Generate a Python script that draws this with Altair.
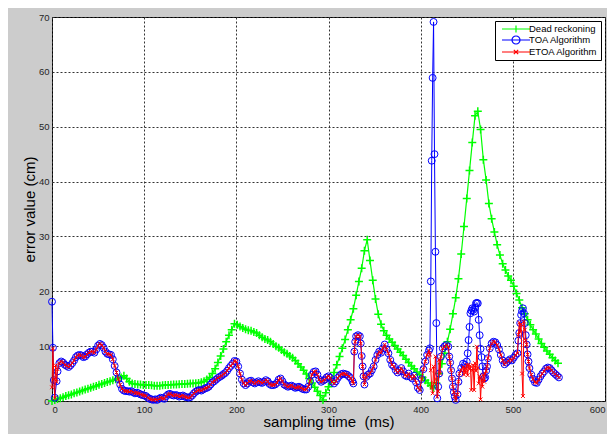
import altair as alt
import pandas as pd

series_names = ["Dead reckoning", "TOA Algorithm", "ETOA Algorithm"]
series_colors = ["#00ff00", "#0000ff", "#ff0000"]
x_ticks = [0, 100, 200, 300, 400, 500, 600]
y_ticks = [0, 10, 20, 30, 40, 50, 60, 70]

# Dead reckoning error, sampled every 3 ms starting at 0
dead_v = [
    0.0, 0.2, 0.35, 0.5, 0.7, 0.9, 1.05, 1.2, 1.4, 1.55,
    1.75, 1.9, 2.1, 2.25, 2.4, 2.6, 2.75, 2.95, 3.1, 3.3,
    3.45, 3.6, 3.8, 3.95, 4.1, 4.3, 4.6, 4.1, 3.5, 3.2,
    3.1, 3.0, 3.0, 2.9, 2.9, 2.9, 2.85, 2.8, 2.8, 2.8,
    2.85, 2.9, 2.9, 2.95, 3.0, 3.0, 3.05, 3.1, 3.1, 3.15,
    3.2, 3.2, 3.25, 3.3, 3.4, 3.6, 3.9, 4.3, 5.0, 5.9,
    7.0, 8.2, 9.5, 10.8, 12.0, 13.0, 14.1, 13.9, 13.6, 13.3,
    13.1, 12.9, 12.8, 12.6, 12.4, 12.0, 11.6, 11.3, 11.1, 10.8,
    10.4, 10.0, 9.7, 9.3, 8.9, 8.6, 8.2, 7.9, 7.4, 6.8,
    6.2, 5.6, 4.9, 4.1, 3.3, 2.5, 1.8, 1.0, 0.2, 1.5,
    2.6, 3.7, 5.2, 6.6, 8.1, 9.6, 11.2, 13.0, 14.8, 16.8,
    19.3, 21.8, 24.2, 27.4, 29.4, 25.6, 22.0, 18.6, 15.8, 14.0,
    12.8, 12.0, 11.3, 10.7, 10.1, 9.5, 8.9, 8.3, 7.6, 7.0,
    6.4, 5.9, 5.3, 4.8, 4.3, 3.8, 3.3, 2.8, 2.4, 3.3,
    5.0, 6.8, 8.7, 10.8, 13.1, 15.9, 18.8, 22.3, 26.8, 31.8,
    36.9, 42.0, 47.1, 52.0, 52.8, 49.5, 44.0, 40.3, 36.0, 33.2,
    30.8, 28.5, 26.6, 25.0, 23.9, 22.8, 22.0, 20.9, 19.6, 18.4,
    17.0, 15.9, 14.8, 13.9, 13.0, 12.2, 11.3, 10.5, 9.8, 9.1,
    8.5, 7.9, 7.4, 6.9,
]

# (time, error) pairs
toa_head = [(0, 18.1), (1, 9.7), (2, 3.8), (3, 0.6), (5, 3.6), (6, 5.4)]
etoa_head = [(0, 2.5), (1, 9.6), (2, 4.0), (3, 0.5), (4, 6.5), (5, 3.5), (6, 5.8)]

shared_a = [
    (8, 6.9), (10, 7.2), (12, 7.0), (14, 6.6), (16, 6.4), (18, 6.2), (20, 6.5), (22, 6.9), (24, 7.4), (26, 8.0),
    (28, 8.3), (30, 8.4), (32, 8.3), (34, 8.0), (36, 8.1), (38, 8.5), (40, 8.8), (42, 9.0), (44, 9.0), (46, 8.8),
    (48, 9.4), (50, 10.1), (52, 10.4), (54, 10.2), (56, 9.7), (58, 9.0), (60, 8.6), (62, 8.5), (64, 8.4), (66, 7.6),
    (68, 6.4), (70, 5.2), (72, 4.0), (74, 3.0), (76, 2.2), (78, 1.9), (80, 1.8), (82, 1.8), (84, 1.7), (86, 1.8),
    (88, 1.6), (90, 1.4), (92, 1.5), (94, 1.4), (96, 1.2), (98, 1.1), (100, 1.0), (102, 0.9), (104, 0.6), (106, 0.4),
    (108, 0.3), (110, 0.2), (112, 0.3), (114, 0.2), (116, 0.4), (118, 0.6), (120, 0.5), (122, 0.4), (124, 0.9), (126, 1.2),
    (128, 1.3), (130, 1.1), (132, 1.0), (134, 1.1), (136, 1.0), (138, 0.8), (140, 0.9), (142, 1.0), (144, 0.8), (146, 0.7),
    (148, 0.6), (150, 0.7), (152, 1.0), (154, 1.4), (156, 1.7), (158, 1.9), (160, 2.0), (162, 1.9), (164, 2.1), (166, 2.3),
    (168, 2.4), (170, 2.6), (172, 3.0), (174, 3.4), (176, 3.6), (178, 3.9), (180, 4.2), (182, 4.4), (184, 4.6), (186, 4.9),
    (188, 5.1), (190, 5.5), (192, 6.0), (194, 6.4), (196, 6.8), (198, 7.3), (200, 7.2), (202, 6.3), (204, 5.0), (206, 3.9),
    (208, 3.2), (210, 2.9), (212, 3.2), (214, 3.6), (216, 3.7), (218, 3.4), (220, 3.2), (222, 3.4), (224, 3.6), (226, 3.4),
    (228, 3.3), (230, 3.5), (232, 3.8), (234, 3.6), (236, 3.1), (238, 2.9), (240, 2.9), (242, 3.0), (244, 3.3), (246, 3.9),
    (248, 4.1), (250, 3.6), (252, 3.0), (254, 2.8), (256, 2.6), (258, 2.7), (260, 2.8), (262, 2.6), (264, 2.4), (266, 2.5),
    (268, 2.6), (270, 2.4), (272, 2.2), (274, 2.1), (276, 2.1), (278, 2.6), (280, 3.6), (282, 4.8), (284, 5.3), (286, 5.4),
    (288, 4.8), (290, 3.9), (292, 3.5), (294, 3.7), (296, 3.9), (298, 4.3), (300, 4.5), (302, 4.2), (304, 3.5), (306, 3.2),
    (308, 3.6), (310, 4.2), (312, 4.6), (314, 4.9), (316, 5.0), (318, 4.9), (320, 4.8), (322, 4.5), (324, 4.2), (326, 3.6),
    (327, 3.2), (328, 9.0), (329, 10.8), (330, 11.8), (332, 12.0), (334, 11.8), (335, 10.5), (336, 8.2), (337, 6.3), (338, 4.5),
    (339, 3.0), (341, 4.4), (343, 4.8), (345, 5.0), (347, 5.6), (349, 6.3), (351, 7.5), (353, 8.4), (355, 9.0), (357, 8.8),
    (359, 9.6), (361, 10.3), (363, 9.4), (365, 8.7), (367, 7.5), (369, 6.6), (371, 6.3), (373, 5.6), (375, 5.2), (377, 5.5),
    (379, 6.0), (381, 5.4), (383, 4.7), (385, 4.5), (387, 5.0), (389, 4.4), (391, 4.1), (393, 4.6), (395, 3.4), (397, 2.4),
    (399, 2.0), (401, 4.0), (403, 5.8), (405, 7.2), (407, 8.4), (409, 9.2),
]

toa_mid = [
    (410, 9.6), (411, 21.8), (412, 43.8), (413, 58.9), (414, 69.1), (415, 45.0), (416, 27.2), (417, 14.2), (418, 0.5),
    (419, 2.6), (420, 5.0), (422, 8.1), (424, 9.6), (426, 10.0), (428, 10.2), (430, 9.9), (431, 8.1), (432, 7.0),
    (433, 5.6), (434, 4.1), (435, 2.6), (436, 1.6), (437, 0.8), (438, 0.2), (440, 1.2), (441, 3.5), (442, 5.0),
    (444, 6.0), (446, 6.8), (448, 6.6), (450, 7.2), (451, 8.7), (452, 11.1), (453, 13.5), (454, 16.0), (455, 16.5),
    (456, 16.9), (457, 16.6), (458, 16.3), (459, 17.0), (460, 17.8), (461, 17.9), (462, 17.8), (463, 14.8), (464, 12.0),
    (465, 9.5), (466, 8.0), (467, 6.3), (468, 4.5), (469, 4.1), (470, 4.3), (471, 5.5), (472, 6.3),
]
etoa_mid = [
    (410, 8.5), (411, 5.6), (412, 2.5), (413, 1.4), (414, 6.3), (415, 3.2), (416, 8.1), (417, 4.0), (418, 0.8),
    (419, 1.8), (420, 7.5), (421, 5.0), (422, 8.1), (424, 9.6), (426, 9.9), (428, 10.2), (430, 9.9), (431, 8.1),
    (432, 7.0), (433, 5.6), (434, 4.1), (435, 2.6), (436, 1.6), (437, 0.8), (438, 0.2), (440, 1.2), (441, 3.5),
    (442, 5.0), (444, 5.6), (446, 6.2), (447, 4.8), (448, 6.0), (449, 5.2), (450, 6.6), (451, 4.7), (452, 6.6),
    (453, 5.8), (454, 6.4), (455, 2.0), (456, 5.6), (457, 6.5), (458, 2.0), (459, 6.9), (460, 5.5), (461, 9.9),
    (462, 6.0), (463, 3.2), (464, 4.5), (465, 0.3), (466, 4.0), (467, 2.6), (468, 4.8), (469, 3.5), (470, 5.0),
    (471, 5.5), (472, 6.3),
]

shared_b = [
    (473, 7.8), (475, 9.6), (477, 10.5), (479, 10.8), (481, 10.7), (483, 10.2), (485, 9.4), (487, 8.4), (489, 7.4),
    (491, 6.7), (493, 7.0), (495, 7.3), (497, 7.6), (499, 7.4), (501, 7.9), (503, 8.4), (505, 8.7),
]

toa_peak = [(506, 11.0), (507, 12.4), (508, 14.2), (509, 15.7), (510, 16.4), (511, 16.9), (512, 16.0), (513, 14.2), (514, 12.0), (515, 10.3)]
etoa_peak = [(506, 12.1), (507, 14.3), (508, 12.6), (509, 14.0), (510, 5.0), (511, 0.9), (512, 14.5), (513, 13.0), (514, 11.0), (515, 10.3)]

shared_c = [
    (516, 8.5), (517, 7.2), (518, 6.0), (520, 4.8), (522, 4.0), (524, 3.4), (526, 3.3), (528, 3.9), (530, 4.5),
    (532, 5.0), (534, 5.4), (536, 5.9), (538, 6.1), (540, 6.0), (542, 5.6), (544, 5.2), (546, 4.9), (548, 4.6), (550, 4.3),
]

toa = toa_head + shared_a + toa_mid + shared_b + toa_peak + shared_c
etoa = etoa_head + shared_a + etoa_mid + shared_b + etoa_peak + shared_c

dead_df = pd.DataFrame({"t": [3 * i for i in range(len(dead_v))], "v": dead_v})
toa_df = pd.DataFrame(toa, columns=["t", "v"])
etoa_df = pd.DataFrame(etoa, columns=["t", "v"])
leg_df = pd.DataFrame({"series": series_names})

PLUS = "M-1,0H1M0,-1V1"
XMARK = "M-1,-1L1,1M-1,1L1,-1"
legend_paths = [
    "M-3.5,0H3.5M0,-0.9V0.9M-0.9,0H0.9",
    "M-3.5,0H3.5M1,0A1,1 0 1 1 -1,0A1,1 0 1 1 1,0",
    "M-3.5,0H3.5M-0.55,-0.55L0.55,0.55M-0.55,0.55L0.55,-0.55",
]

X = alt.X("t:Q", scale=alt.Scale(domain=[0, 600], nice=False),
          axis=alt.Axis(values=x_ticks, title="sampling time\u00a0 (ms)", format="d"))
Y = alt.Y("v:Q", scale=alt.Scale(domain=[0, 70], nice=False),
          axis=alt.Axis(values=y_ticks, title="error value (cm)", format="d"))

dead_line = alt.Chart(dead_df).mark_line(color=series_colors[0], strokeWidth=1.2).encode(x=X, y=Y)
dead_pts = alt.Chart(dead_df).mark_point(shape=PLUS, color=series_colors[0], size=64, filled=False,
                                          strokeWidth=1.5, opacity=1).encode(x=X, y=Y)
toa_line = alt.Chart(toa_df).mark_line(color=series_colors[1], strokeWidth=1).encode(x=X, y=Y)
toa_pts = alt.Chart(toa_df).mark_point(shape="circle", color=series_colors[1], size=48, filled=False,
                                        strokeWidth=1, opacity=1).encode(x=X, y=Y)
etoa_line = alt.Chart(etoa_df).mark_line(color=series_colors[2], strokeWidth=1).encode(x=X, y=Y)
etoa_pts = alt.Chart(etoa_df).mark_point(shape=XMARK, color=series_colors[2], size=14, filled=False,
                                          strokeWidth=1, opacity=1).encode(x=X, y=Y)

leg_props = dict(title=None, orient="top-right", offset=4, fillColor="white", strokeColor="black",
                 padding=3, labelFont="Liberation Sans", labelFontSize=9.5, labelColor="black",
                 symbolSize=64, symbolStrokeWidth=1.2, symbolOpacity=1, symbolOffset=13,
                 labelOffset=8, rowPadding=-2.3)
legend_layer = alt.Chart(leg_df).mark_point(opacity=0, filled=False, strokeWidth=1).encode(
    x=alt.value(0), y=alt.value(0),
    color=alt.Color("series:N", scale=alt.Scale(domain=series_names, range=series_colors),
                    legend=alt.Legend(**leg_props)),
    shape=alt.Shape("series:N", scale=alt.Scale(domain=series_names, range=legend_paths),
                    legend=alt.Legend(**leg_props)),
)

chart = alt.layer(dead_line, dead_pts, toa_line, toa_pts, etoa_line, etoa_pts, legend_layer).properties(
    width=553, height=384,
    padding={"left": 44, "top": 9, "right": 2, "bottom": 33},
    autosize=alt.AutoSizeParams(type="none"),
    background="#cccccc",
).configure_view(
    stroke="black", strokeWidth=1, fill="white"
).configure_axis(
    grid=True, gridColor="#333333", gridDash=[2, 2], gridOpacity=1, gridWidth=1,
    ticks=False, domain=False, labelFont="Liberation Sans", labelFontSize=9.5, labelColor="#262626",
    titleFont="Liberation Sans", titleFontSize=15, titleFontWeight="normal", titleColor="black",
    labelPadding=3, titlePadding=1,
)

chart.save("out.html", embed_options={"renderer": "svg", "actions": False})
